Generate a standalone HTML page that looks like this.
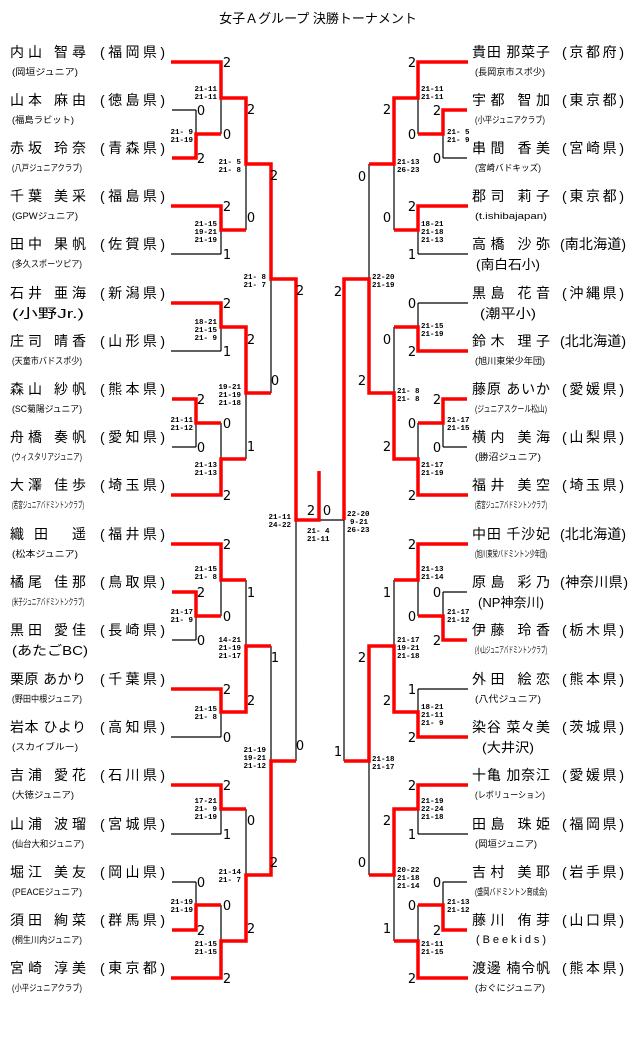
<!DOCTYPE html>
<html><head><meta charset="utf-8"><style>
html,body{margin:0;padding:0;background:#fff;}
svg{display:block;}
.n{font-family:"Liberation Sans","Noto Sans CJK JP",sans-serif;font-size:14px;fill:#000;}
.c{font-family:"Liberation Sans","Noto Sans CJK JP",sans-serif;font-size:9px;fill:#000;}
.cl{font-family:"Liberation Sans","Noto Sans CJK JP",sans-serif;font-size:13px;fill:#000;}
.d{font-family:"DejaVu Sans",sans-serif;font-size:13px;fill:#000;text-anchor:middle;}
.s{font-family:"Liberation Mono",monospace;font-size:7.5px;fill:#000;font-weight:bold;}
.t{font-family:"Liberation Sans","Noto Sans CJK JP",sans-serif;font-size:13px;fill:#000;}
</style></head><body>
<svg width="640" height="1061" viewBox="0 0 640 1061" xmlns="http://www.w3.org/2000/svg">
<text class="t" x="318" y="23" text-anchor="middle">女子Ａグループ 決勝トーナメント</text>

<!-- black bracket -->
<path fill="none" stroke="#000" stroke-width="1.2" d="
M171 62H221 M172 110H196 M172 158H196 M196 110V158 M196 134H221 M221 62V134 M221 98H246 M171 206H221 M171 254H221 M221 206V254 M221 230H246 M246 98V230 M246 164H271
M171 303H221 M171 351H221 M221 303V351 M221 327H246 M172 399H196 M172 447H196 M196 399V447 M196 423H221 M171 495H221 M221 423V495 M221 459H246 M246 327V459 M246 393H271 M271 164V393 M271 279H296 M296 279V761
M171 544H221 M172 592H196 M172 640H196 M196 592V640 M196 616H221 M221 544V616 M221 580H246 M171 689H221 M171 737H221 M221 689V737 M221 712H246 M246 580V712 M246 646H271 M271 646V875 M271 761H296
M171 785H221 M171 834H221 M221 785V834 M221 809H246 M172 882H196 M172 930H196 M196 882V930 M196 905H221 M171 978H221 M221 905V978 M221 941H246 M246 809V941 M246 875H271
M296 520H344
M418 62H468 M443 110H467 M443 158H467 M443 110V158 M418 134H443 M418 62V134 M394 98H418 M418 206H468 M418 254H468 M418 206V254 M394 230H418 M394 98V230 M369 164H394
M418 303H468 M418 351H468 M418 303V351 M394 327H418 M443 399H467 M443 447H467 M443 399V447 M418 423H443 M418 495H468 M418 423V495 M394 459H418 M394 327V459 M369 393H394 M369 164V393 M344 279H369 M344 279V761
M418 544H468 M443 592H467 M443 640H467 M443 592V640 M418 616H443 M418 544V616 M394 580H418 M418 689H468 M418 737H468 M418 689V737 M394 712H418 M394 580V712 M369 646H394 M369 646V875 M344 761H369
M418 785H468 M418 834H468 M418 785V834 M394 809H418 M443 882H467 M443 930H467 M443 882V930 M418 905H443 M418 978H468 M418 905V978 M394 941H418 M394 809V941 M369 875H394
"/>

<!-- red winner paths -->
<path fill="none" stroke="#f00" stroke-width="3.5" stroke-linejoin="miter" d="
M171 62H221V98H246V164H271V279H296V520H319V471
M172 158H196V134H221
M171 206H221V230H246
M171 303H221V327H246V393H271
M172 399H196V423H221
M171 495H221V459H246
M171 544H221V580H246
M172 592H196V616H221
M171 689H221V712H246V646H271
M171 785H221V809H246
M172 930H196V905H221
M171 978H221V941H246V875H271V761H296
M468 62H418V98H394V164H369
M467 110H443V134H418
M468 206H418V230H394
M468 351H418V327H394
M467 399H443V423H418
M468 495H418V459H394V393H369V279H344V520
M468 544H418V580H394
M467 640H443V616H418
M468 737H418V712H394V646H369V761H344
M468 785H418V809H394V875H369
M467 930H443V905H418
M468 978H418V941H394
"/>

<!-- digits left -->
<g class="d">
<text x="227" y="67">2</text><text x="201" y="115">0</text><text x="201" y="163">2</text><text x="227" y="139">0</text>
<text x="227" y="211">2</text><text x="227" y="259">1</text><text x="251" y="114">2</text><text x="251" y="222">0</text>
<text x="274" y="180">2</text><text x="275" y="385">0</text>
<text x="227" y="308">2</text><text x="227" y="356">1</text><text x="201" y="404">2</text><text x="201" y="452">0</text>
<text x="227" y="428">0</text><text x="227" y="500">2</text><text x="251" y="344">2</text><text x="251" y="451">1</text>
<text x="300" y="295">2</text><text x="300" y="750">0</text>
<text x="227" y="549">2</text><text x="201" y="597">2</text><text x="201" y="645">0</text><text x="227" y="621">0</text>
<text x="251" y="597">1</text><text x="227" y="694">2</text><text x="227" y="742">0</text><text x="251" y="705">2</text><text x="275" y="662">1</text>
<text x="227" y="790">2</text><text x="227" y="839">1</text><text x="201" y="887">0</text><text x="201" y="935">2</text>
<text x="227" y="910">0</text><text x="227" y="983">2</text><text x="251" y="825">0</text><text x="251" y="933">2</text><text x="274" y="867">2</text>
<text x="311" y="515">2</text><text x="327" y="515">0</text>
<!-- digits right -->
<text x="412" y="67">2</text><text x="437" y="115">2</text><text x="437" y="163">0</text><text x="412" y="139">0</text>
<text x="387" y="114">2</text><text x="412" y="211">2</text><text x="412" y="259">1</text><text x="387" y="222">0</text>
<text x="362" y="181">0</text><text x="338" y="296">2</text>
<text x="412" y="308">0</text><text x="412" y="356">2</text><text x="387" y="344">0</text><text x="437" y="404">2</text><text x="437" y="452">0</text>
<text x="412" y="428">0</text><text x="412" y="500">2</text><text x="387" y="451">2</text><text x="362" y="385">2</text>
<text x="412" y="549">2</text><text x="437" y="597">0</text><text x="437" y="645">2</text><text x="412" y="621">0</text>
<text x="387" y="597">1</text><text x="412" y="694">1</text><text x="412" y="742">2</text><text x="387" y="705">2</text><text x="362" y="662">2</text>
<text x="338" y="756">1</text>
<text x="412" y="790">2</text><text x="412" y="839">1</text><text x="387" y="825">2</text><text x="437" y="887">0</text><text x="437" y="935">2</text>
<text x="412" y="910">0</text><text x="412" y="983">2</text><text x="387" y="933">1</text><text x="362" y="867">0</text>
</g>

<!-- scores left (right-aligned) -->
<g class="s" text-anchor="end">
<text x="217" y="91">21-11<tspan x="217" dy="8">21-11</tspan></text>
<text x="193" y="134">21- 9<tspan x="193" dy="8">21-19</tspan></text>
<text x="241" y="164">21- 5<tspan x="241" dy="8">21- 8</tspan></text>
<text x="217" y="226">21-15<tspan x="217" dy="8">19-21</tspan><tspan x="217" dy="8">21-19</tspan></text>
<text x="266" y="279">21- 8<tspan x="266" dy="8">21- 7</tspan></text>
<text x="217" y="324">18-21<tspan x="217" dy="8">21-15</tspan><tspan x="217" dy="8">21- 9</tspan></text>
<text x="241" y="389">19-21<tspan x="241" dy="8">21-19</tspan><tspan x="241" dy="8">21-18</tspan></text>
<text x="193" y="422">21-11<tspan x="193" dy="8">21-12</tspan></text>
<text x="217" y="467">21-13<tspan x="217" dy="8">21-13</tspan></text>
<text x="291" y="519">21-11<tspan x="291" dy="8">24-22</tspan></text>
<text x="217" y="571">21-15<tspan x="217" dy="8">21- 8</tspan></text>
<text x="193" y="614">21-17<tspan x="193" dy="8">21- 9</tspan></text>
<text x="241" y="642">14-21<tspan x="241" dy="8">21-19</tspan><tspan x="241" dy="8">21-17</tspan></text>
<text x="217" y="711">21-15<tspan x="217" dy="8">21- 8</tspan></text>
<text x="266" y="752">21-19<tspan x="266" dy="8">19-21</tspan><tspan x="266" dy="8">21-12</tspan></text>
<text x="217" y="803">17-21<tspan x="217" dy="8">21- 9</tspan><tspan x="217" dy="8">21-19</tspan></text>
<text x="241" y="874">21-14<tspan x="241" dy="8">21- 7</tspan></text>
<text x="193" y="904">21-19<tspan x="193" dy="8">21-19</tspan></text>
<text x="217" y="946">21-15<tspan x="217" dy="8">21-15</tspan></text>
</g>
<g class="s">
<text x="307" y="533">21- 4<tspan x="307" dy="8">21-11</tspan></text>
<!-- right -->
<text x="421" y="91">21-11<tspan x="421" dy="8">21-11</tspan></text>
<text x="447" y="134">21- 5<tspan x="447" dy="8">21- 9</tspan></text>
<text x="397" y="164">21-13<tspan x="397" dy="8">26-23</tspan></text>
<text x="421" y="226">18-21<tspan x="421" dy="8">21-18</tspan><tspan x="421" dy="8">21-13</tspan></text>
<text x="372" y="279">22-20<tspan x="372" dy="8">21-19</tspan></text>
<text x="421" y="328">21-15<tspan x="421" dy="8">21-19</tspan></text>
<text x="397" y="393">21- 8<tspan x="397" dy="8">21- 8</tspan></text>
<text x="447" y="422">21-17<tspan x="447" dy="8">21-15</tspan></text>
<text x="421" y="467">21-17<tspan x="421" dy="8">21-19</tspan></text>
<text x="347" y="516">22-20<tspan x="350" dy="8">9-21</tspan><tspan x="347" dy="8">26-23</tspan></text>
<text x="421" y="571">21-13<tspan x="421" dy="8">21-14</tspan></text>
<text x="447" y="614">21-17<tspan x="447" dy="8">21-12</tspan></text>
<text x="397" y="642">21-17<tspan x="397" dy="8">19-21</tspan><tspan x="397" dy="8">21-18</tspan></text>
<text x="421" y="709">18-21<tspan x="421" dy="8">21-11</tspan><tspan x="421" dy="8">21- 9</tspan></text>
<text x="372" y="761">21-18<tspan x="372" dy="8">21-17</tspan></text>
<text x="421" y="803">21-19<tspan x="421" dy="8">22-24</tspan><tspan x="421" dy="8">21-18</tspan></text>
<text x="397" y="872">20-22<tspan x="397" dy="8">21-18</tspan><tspan x="397" dy="8">21-14</tspan></text>
<text x="447" y="904">21-13<tspan x="447" dy="8">21-12</tspan></text>
<text x="421" y="946">21-11<tspan x="421" dy="8">21-15</tspan></text>
</g>

<!-- left names -->
<g>
<text class="n" x="10" y="57" textLength="76" lengthAdjust="spacing">内山 智尋</text><text class="n" x="100" y="57" textLength="65" lengthAdjust="spacing">(福岡県)</text><text class="c" x="12" y="75" textLength="66" lengthAdjust="spacingAndGlyphs">(岡垣ジュニア)</text>
<text class="n" x="10" y="105" textLength="76" lengthAdjust="spacing">山本 麻由</text><text class="n" x="100" y="105" textLength="65" lengthAdjust="spacing">(徳島県)</text><text class="c" x="12" y="123" textLength="62" lengthAdjust="spacingAndGlyphs">(福島ラビット)</text>
<text class="n" x="10" y="153" textLength="76" lengthAdjust="spacing">赤坂 玲奈</text><text class="n" x="100" y="153" textLength="65" lengthAdjust="spacing">(青森県)</text><text class="c" x="12" y="171" textLength="70" lengthAdjust="spacingAndGlyphs">(八戸ジュニアクラブ)</text>
<text class="n" x="10" y="201" textLength="76" lengthAdjust="spacing">千葉 美采</text><text class="n" x="100" y="201" textLength="65" lengthAdjust="spacing">(福島県)</text><text class="c" x="12" y="219" textLength="66" lengthAdjust="spacingAndGlyphs">(GPWジュニア)</text>
<text class="n" x="10" y="249" textLength="76" lengthAdjust="spacing">田中 果帆</text><text class="n" x="100" y="249" textLength="65" lengthAdjust="spacing">(佐賀県)</text><text class="c" x="12" y="267" textLength="70" lengthAdjust="spacingAndGlyphs">(多久スポーツピア)</text>
<text class="n" x="10" y="298" textLength="76" lengthAdjust="spacing">石井 亜海</text><text class="n" x="100" y="298" textLength="65" lengthAdjust="spacing">(新潟県)</text><text class="cl" x="12" y="318" textLength="72" lengthAdjust="spacingAndGlyphs">(小野Jr.)</text>
<text class="n" x="10" y="346" textLength="76" lengthAdjust="spacing">庄司 晴香</text><text class="n" x="100" y="346" textLength="65" lengthAdjust="spacing">(山形県)</text><text class="c" x="12" y="364" textLength="70" lengthAdjust="spacingAndGlyphs">(天童市バドスポ少)</text>
<text class="n" x="10" y="394" textLength="76" lengthAdjust="spacing">森山 紗帆</text><text class="n" x="100" y="394" textLength="65" lengthAdjust="spacing">(熊本県)</text><text class="c" x="12" y="412" textLength="70" lengthAdjust="spacingAndGlyphs">(SC菊陽ジュニア)</text>
<text class="n" x="10" y="442" textLength="76" lengthAdjust="spacing">舟橋 奏帆</text><text class="n" x="100" y="442" textLength="65" lengthAdjust="spacing">(愛知県)</text><text class="c" x="12" y="460" textLength="70" lengthAdjust="spacingAndGlyphs">(ウィスタリアジュニア)</text>
<text class="n" x="10" y="490" textLength="76" lengthAdjust="spacing">大澤 佳歩</text><text class="n" x="100" y="490" textLength="65" lengthAdjust="spacing">(埼玉県)</text><text class="c" x="12" y="508" textLength="72" lengthAdjust="spacingAndGlyphs">(若宮ジュニアバドミントンクラブ)</text>
<text class="n" x="10" y="539" textLength="76" lengthAdjust="spacing">織田 遥</text><text class="n" x="100" y="539" textLength="65" lengthAdjust="spacing">(福井県)</text><text class="c" x="12" y="557" textLength="66" lengthAdjust="spacingAndGlyphs">(松本ジュニア)</text>
<text class="n" x="10" y="587" textLength="76" lengthAdjust="spacing">橘尾 佳那</text><text class="n" x="100" y="587" textLength="65" lengthAdjust="spacing">(鳥取県)</text><text class="c" x="12" y="605" textLength="72" lengthAdjust="spacingAndGlyphs">(米子ジュニアバドミントンクラブ)</text>
<text class="n" x="10" y="635" textLength="76" lengthAdjust="spacing">黒田 愛佳</text><text class="n" x="100" y="635" textLength="65" lengthAdjust="spacing">(長崎県)</text><text class="cl" x="12" y="655" textLength="76" lengthAdjust="spacingAndGlyphs">(あたごBC)</text>
<text class="n" x="10" y="684" textLength="76" lengthAdjust="spacing">栗原 あかり</text><text class="n" x="100" y="684" textLength="65" lengthAdjust="spacing">(千葉県)</text><text class="c" x="12" y="702" textLength="70" lengthAdjust="spacingAndGlyphs">(野田中根ジュニア)</text>
<text class="n" x="10" y="732" textLength="76" lengthAdjust="spacing">岩本 ひより</text><text class="n" x="100" y="732" textLength="65" lengthAdjust="spacing">(高知県)</text><text class="c" x="12" y="750" textLength="66" lengthAdjust="spacingAndGlyphs">(スカイブルー)</text>
<text class="n" x="10" y="780" textLength="76" lengthAdjust="spacing">吉浦 愛花</text><text class="n" x="100" y="780" textLength="65" lengthAdjust="spacing">(石川県)</text><text class="c" x="12" y="798" textLength="62" lengthAdjust="spacingAndGlyphs">(大徳ジュニア)</text>
<text class="n" x="10" y="829" textLength="76" lengthAdjust="spacing">山浦 波瑠</text><text class="n" x="100" y="829" textLength="65" lengthAdjust="spacing">(宮城県)</text><text class="c" x="12" y="847" textLength="72" lengthAdjust="spacingAndGlyphs">(仙台大和ジュニア)</text>
<text class="n" x="10" y="877" textLength="76" lengthAdjust="spacing">堀江 美友</text><text class="n" x="100" y="877" textLength="65" lengthAdjust="spacing">(岡山県)</text><text class="c" x="12" y="895" textLength="70" lengthAdjust="spacingAndGlyphs">(PEACEジュニア)</text>
<text class="n" x="10" y="925" textLength="76" lengthAdjust="spacing">須田 絢菜</text><text class="n" x="100" y="925" textLength="65" lengthAdjust="spacing">(群馬県)</text><text class="c" x="12" y="943" textLength="70" lengthAdjust="spacingAndGlyphs">(桐生川内ジュニア)</text>
<text class="n" x="10" y="973" textLength="76" lengthAdjust="spacing">宮崎 淳美</text><text class="n" x="100" y="973" textLength="65" lengthAdjust="spacing">(東京都)</text><text class="c" x="12" y="991" textLength="70" lengthAdjust="spacingAndGlyphs">(小平ジュニアクラブ)</text>
</g>

<!-- right names -->
<g>
<text class="n" x="472" y="57" textLength="78" lengthAdjust="spacing">貴田 那菜子</text><text class="n" x="562" y="57" textLength="62" lengthAdjust="spacing">(京都府)</text><text class="c" x="475" y="75" textLength="70" lengthAdjust="spacingAndGlyphs">(長岡京市スポ少)</text>
<text class="n" x="472" y="105" textLength="78" lengthAdjust="spacing">宇都 智加</text><text class="n" x="562" y="105" textLength="62" lengthAdjust="spacing">(東京都)</text><text class="c" x="475" y="123" textLength="70" lengthAdjust="spacingAndGlyphs">(小平ジュニアクラブ)</text>
<text class="n" x="472" y="153" textLength="78" lengthAdjust="spacing">串間 香美</text><text class="n" x="562" y="153" textLength="62" lengthAdjust="spacing">(宮崎県)</text><text class="c" x="475" y="171" textLength="66" lengthAdjust="spacingAndGlyphs">(宮崎バドキッズ)</text>
<text class="n" x="472" y="201" textLength="78" lengthAdjust="spacing">郡司 莉子</text><text class="n" x="562" y="201" textLength="62" lengthAdjust="spacing">(東京都)</text><text class="c" x="475" y="219" textLength="72" lengthAdjust="spacingAndGlyphs">(t.ishibajapan)</text>
<text class="n" x="472" y="249" textLength="78" lengthAdjust="spacing">高橋 沙弥</text><text class="n" x="560" y="249" textLength="66" lengthAdjust="spacing">(南北海道)</text><text class="cl" x="476" y="269" textLength="64" lengthAdjust="spacingAndGlyphs">(南白石小)</text>
<text class="n" x="472" y="298" textLength="78" lengthAdjust="spacing">黒島 花音</text><text class="n" x="562" y="298" textLength="62" lengthAdjust="spacing">(沖縄県)</text><text class="cl" x="480" y="318" textLength="56" lengthAdjust="spacingAndGlyphs">(潮平小)</text>
<text class="n" x="472" y="346" textLength="78" lengthAdjust="spacing">鈴木 理子</text><text class="n" x="560" y="346" textLength="66" lengthAdjust="spacing">(北北海道)</text><text class="c" x="475" y="364" textLength="70" lengthAdjust="spacingAndGlyphs">(旭川東栄少年団)</text>
<text class="n" x="472" y="394" textLength="78" lengthAdjust="spacing">藤原 あいか</text><text class="n" x="562" y="394" textLength="62" lengthAdjust="spacing">(愛媛県)</text><text class="c" x="475" y="412" textLength="72" lengthAdjust="spacingAndGlyphs">(ジュニアスクール松山)</text>
<text class="n" x="472" y="442" textLength="78" lengthAdjust="spacing">横内 美海</text><text class="n" x="562" y="442" textLength="62" lengthAdjust="spacing">(山梨県)</text><text class="c" x="475" y="460" textLength="66" lengthAdjust="spacingAndGlyphs">(勝沼ジュニア)</text>
<text class="n" x="472" y="490" textLength="78" lengthAdjust="spacing">福井 美空</text><text class="n" x="562" y="490" textLength="62" lengthAdjust="spacing">(埼玉県)</text><text class="c" x="475" y="508" textLength="72" lengthAdjust="spacingAndGlyphs">(若宮ジュニアバドミントンクラブ)</text>
<text class="n" x="472" y="539" textLength="78" lengthAdjust="spacing">中田 千沙妃</text><text class="n" x="560" y="539" textLength="66" lengthAdjust="spacing">(北北海道)</text><text class="c" x="475" y="557" textLength="72" lengthAdjust="spacingAndGlyphs">(旭川東栄バドミントン少年団)</text>
<text class="n" x="472" y="587" textLength="78" lengthAdjust="spacing">原島 彩乃</text><text class="n" x="560" y="587" textLength="68" lengthAdjust="spacing">(神奈川県)</text><text class="cl" x="478" y="607" textLength="66" lengthAdjust="spacingAndGlyphs">(NP神奈川)</text>
<text class="n" x="472" y="635" textLength="78" lengthAdjust="spacing">伊藤 玲香</text><text class="n" x="562" y="635" textLength="62" lengthAdjust="spacing">(栃木県)</text><text class="c" x="475" y="653" textLength="72" lengthAdjust="spacingAndGlyphs">(小山ジュニアバドミントンクラブ)</text>
<text class="n" x="472" y="684" textLength="78" lengthAdjust="spacing">外田 絵恋</text><text class="n" x="562" y="684" textLength="62" lengthAdjust="spacing">(熊本県)</text><text class="c" x="475" y="702" textLength="66" lengthAdjust="spacingAndGlyphs">(八代ジュニア)</text>
<text class="n" x="472" y="732" textLength="78" lengthAdjust="spacing">染谷 菜々美</text><text class="n" x="562" y="732" textLength="62" lengthAdjust="spacing">(茨城県)</text><text class="cl" x="482" y="752" textLength="52" lengthAdjust="spacingAndGlyphs">(大井沢)</text>
<text class="n" x="472" y="780" textLength="78" lengthAdjust="spacing">十亀 加奈江</text><text class="n" x="562" y="780" textLength="62" lengthAdjust="spacing">(愛媛県)</text><text class="c" x="475" y="798" textLength="70" lengthAdjust="spacingAndGlyphs">(レボリューション)</text>
<text class="n" x="472" y="829" textLength="78" lengthAdjust="spacing">田島 珠姫</text><text class="n" x="562" y="829" textLength="62" lengthAdjust="spacing">(福岡県)</text><text class="c" x="475" y="847" textLength="62" lengthAdjust="spacingAndGlyphs">(岡垣ジュニア)</text>
<text class="n" x="472" y="877" textLength="78" lengthAdjust="spacing">吉村 美耶</text><text class="n" x="562" y="877" textLength="62" lengthAdjust="spacing">(岩手県)</text><text class="c" x="475" y="895" textLength="72" lengthAdjust="spacingAndGlyphs">(盛岡バドミントン育成会)</text>
<text class="n" x="472" y="925" textLength="78" lengthAdjust="spacing">藤川 侑芽</text><text class="n" x="562" y="925" textLength="62" lengthAdjust="spacing">(山口県)</text><text class="c" x="476" y="943" textLength="70" lengthAdjust="spacing" style="font-size:11px">(Beekids)</text>
<text class="n" x="472" y="973" textLength="78" lengthAdjust="spacing">渡邊 楠令帆</text><text class="n" x="562" y="973" textLength="62" lengthAdjust="spacing">(熊本県)</text><text class="c" x="475" y="991" textLength="70" lengthAdjust="spacingAndGlyphs">(おぐにジュニア)</text>
</g>
</svg>
</body></html>
